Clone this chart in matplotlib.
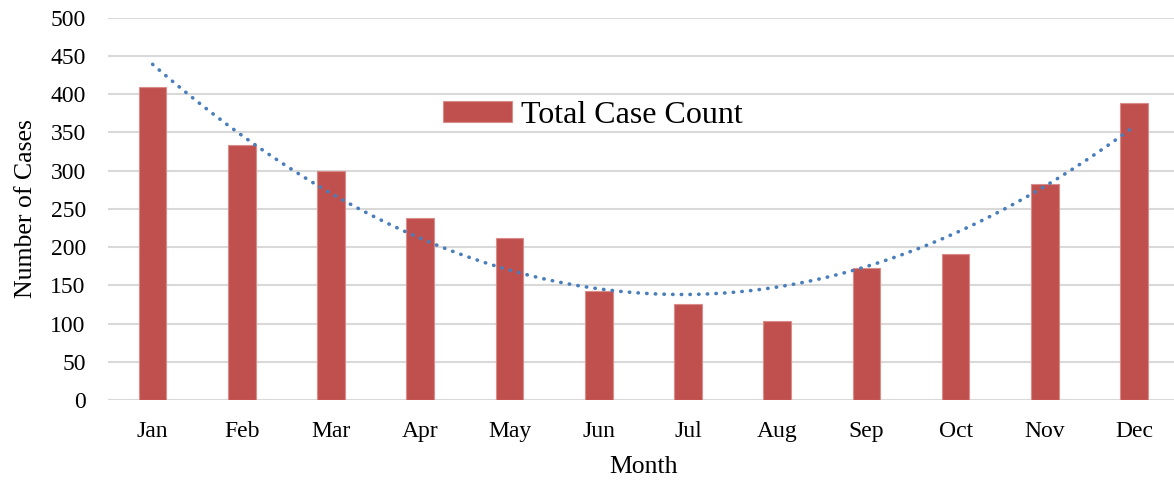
import matplotlib
matplotlib.use('Agg')
import matplotlib.pyplot as plt
import numpy as np

months = ['Jan', 'Feb', 'Mar', 'Apr', 'May', 'Jun',
          'Jul', 'Aug', 'Sep', 'Oct', 'Nov', 'Dec']
case_count = [410, 333, 299, 238, 212, 143, 126, 103, 173, 191, 282, 389]
y_ticks = [0, 50, 100, 150, 200, 250, 300, 350, 400, 450, 500]

plt.rcParams['font.family'] = ['Liberation Serif', 'DejaVu Serif']

fig = plt.figure(figsize=(11.74, 4.83), dpi=100)
ax = fig.add_axes([0.092, 0.172, 0.912, 0.791])

x = np.arange(len(months))
ax.bar(x, case_count, width=0.31, color='#c0504d', edgecolor='#d98c8a',
       linewidth=0.8, label='Total Case Count', zorder=3)

# polynomial (order 2) trendline, like the spreadsheet one
coef = np.polyfit(x, case_count, 2)
xt = np.linspace(0, len(months) - 1, 200)
ax.plot(xt, np.polyval(coef, xt), color='#4a7ebb', linewidth=2.6,
        linestyle=(0, (0.1, 2.3)), dash_capstyle='round', zorder=4)

ax.set_xlim(-0.5, len(months) - 0.5)
ax.set_ylim(0, 500)
ax.set_yticks(y_ticks)
ax.set_xticks(x)
ax.set_xticklabels(months)
ax.tick_params(axis='both', length=0, labelsize=17)
ax.tick_params(axis='x', pad=15)
ax.tick_params(axis='y', pad=16)
ax.yaxis.grid(True, color='#d9d9d9', linewidth=1.5, zorder=0)
for s in ax.spines.values():
    s.set_visible(False)

ax.set_xlabel('Month', fontsize=18.5, labelpad=10)
ax.set_ylabel('Number of Cases', fontsize=18.5, labelpad=10)

ax.legend(loc='center', bbox_to_anchor=(0.453, 0.745), frameon=False,
          fontsize=23, handlelength=2.15, handleheight=0.6, handletextpad=0.3)

fig.savefig('out.png', dpi=100)
